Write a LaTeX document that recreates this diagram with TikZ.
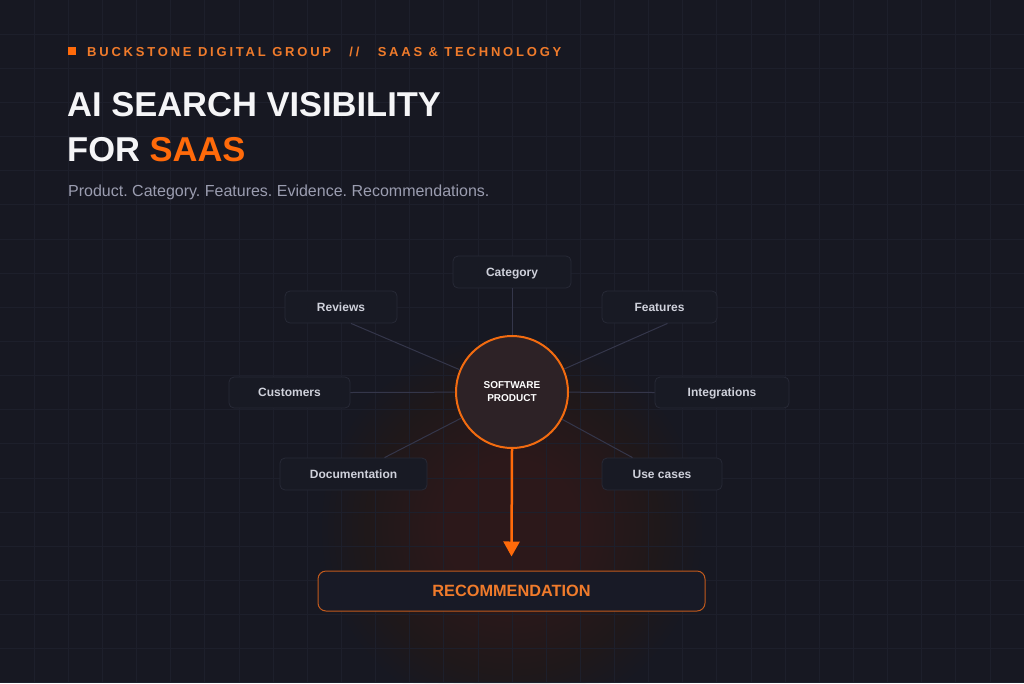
\documentclass[tikz,border=0pt]{standalone}
\usepackage{fontspec}
\setmainfont{Liberation Sans}
\usetikzlibrary{arrows.meta}
\definecolor{bg}{HTML}{171822}
\definecolor{gridc}{HTML}{1D1F2B}
\definecolor{glowc}{HTML}{5E2E1A}
\definecolor{orange}{HTML}{FF6A0A}
\definecolor{headc}{HTML}{F07B2B}
\definecolor{subc}{HTML}{9B9DB0}
\definecolor{boxfill}{HTML}{181A24}
\definecolor{boxline}{HTML}{272936}
\definecolor{labelc}{HTML}{CFD1DB}
\definecolor{linkc}{HTML}{34364A}
\definecolor{circfill}{HTML}{2D2226}
\definecolor{circline}{HTML}{F26B10}
\definecolor{recline}{HTML}{C25A1C}
\definecolor{recfill}{HTML}{181A26}
\definecolor{titlec}{HTML}{F5F5F7}
\tikzset{
  nodebox/.style={draw=boxline, fill=boxfill, rounded corners=5pt, line width=0.8pt,
    text=labelc, font=\bfseries\fontsize{12}{14}\selectfont, inner sep=0pt, minimum height=32pt,
    text height=8.6pt, text depth=0pt},
  link/.style={draw=linkc, line width=1pt},
  txt/.style={anchor=base west, inner sep=0pt},
}
\begin{document}
\begin{tikzpicture}[x=1pt,y=-1pt]
\useasboundingbox (0,0) rectangle (1024,683);
\fill[bg] (0,0) rectangle (1024,683);
\foreach \r in {190,184,...,6} \fill[glowc, opacity=0.019] (512,528) circle (\r);
\foreach \i in {1,...,29} \draw[gridc, line width=0.7pt] (\i*34.1333,0) -- (\i*34.1333,683);
\foreach \j in {1,...,20} \draw[gridc, line width=0.7pt] (0,\j*34.1333) -- (1024,\j*34.1333);

% header
\fill[orange] (68,47) rectangle (76,55);
\node[txt, text=headc, font=\bfseries\fontsize{13}{15}\selectfont\addfontfeatures{LetterSpace=21.5}] (head) at (87,56.5)
  {BUCKSTONE DIGITAL GROUP\ \ \hspace{5.5pt}//\ \ \hspace{5.5pt}SAAS \& TECHNOLOGY};
\node[txt, text=titlec, font=\bfseries\fontsize{34.5}{40}\selectfont] (t1) at (67,116) {AI SEARCH VISIBILITY};
\node[txt, text=titlec, font=\bfseries\fontsize{34.5}{40}\selectfont] (t2) at (67,161) {FOR \textcolor{orange}{SAAS}};
\node[txt, text=subc, font=\fontsize{16}{18}\selectfont] (sub) at (68,196) {\frenchspacing Product. Category. Features. Evidence. Recommendations.};

% nodes
\node[nodebox, minimum width=118pt] (cat) at (512,272) {Category};
\node[nodebox, minimum width=112pt] (rev) at (341,307) {Reviews};
\node[nodebox, minimum width=115pt] (feat) at (659.5,307) {Features};
\node[nodebox, minimum width=121pt, minimum height=31pt] (cust) at (289.5,392.5) {Customers};
\node[nodebox, minimum width=134pt, minimum height=31pt] (integ) at (722,392.5) {Integrations};
\node[nodebox, minimum width=147pt] (doc) at (353.5,474) {Documentation};
\node[nodebox, minimum width=120pt] (use) at (662,474) {Use cases};
\node[circle, fill=circfill, draw=circline, line width=2pt, minimum size=112pt, inner sep=0pt,
  text=white, align=center, font=\bfseries\fontsize{10}{13}\selectfont] (circ) at (512,392) {SOFTWARE\\PRODUCT};
\node[draw=recline, fill=recfill, line width=1pt, rounded corners=8pt, minimum width=387pt, minimum height=40pt,
  inner sep=0pt, text=headc, font=\bfseries\fontsize{16.3}{18}\selectfont] (rec) at (511.5,591) {RECOMMENDATION};

% connectors
\draw[link] (cat.south) -- (circ);
\draw[link] ([xshift=10pt]rev.south) -- (circ);
\draw[link] ([xshift=8pt]feat.south) -- (circ);
\draw[link] (cust.east) -- (circ);
\draw[link] (integ.west) -- (circ);
\draw[link] ([xshift=31pt]doc.north) -- (circ);
\draw[link] ([xshift=-29.5pt]use.north) -- (circ);
\draw[orange, line width=2.5pt, -{Triangle[width=16pt,length=15pt]}] (circ.south) -- ([yshift=14pt]rec.north);
\end{tikzpicture}
\end{document}
